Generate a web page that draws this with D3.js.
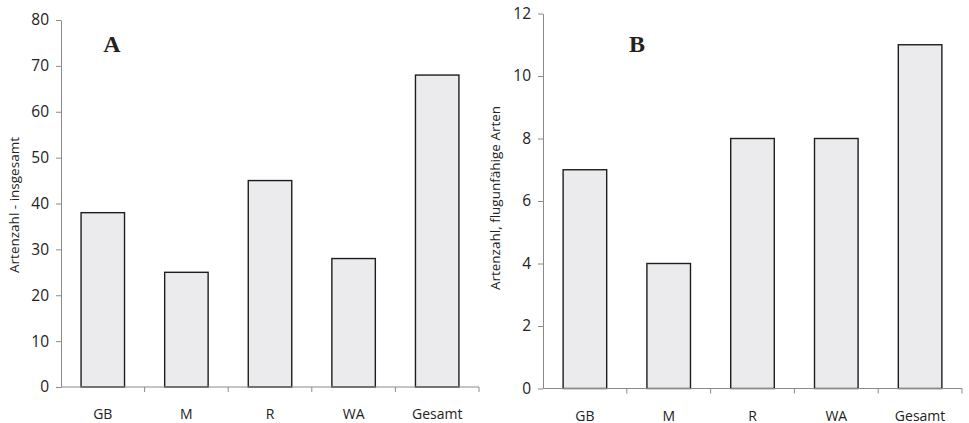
<!DOCTYPE html>
<html>
<head>
<meta charset="utf-8">
<script src="https://cdn.jsdelivr.net/npm/d3@7"></script>
<style>
  body { margin: 0; background: #fff; }
  svg text { font-family: "Open Sans", "Noto Sans", sans-serif; fill: #222; }
</style>
</head>
<body>
<div id="chart"></div>
<script>
const categories = ["GB", "M", "R", "WA", "Gesamt"];
const valuesA = [38, 25, 45, 28, 68];
const valuesB = [7, 4, 8, 8, 11];
const ticksA = [0, 10, 20, 30, 40, 50, 60, 70, 80];
const ticksB = [0, 2, 4, 6, 8, 10, 12];

const width = 969, height = 423;
const svg = d3.select("#chart").append("svg")
  .attr("width", width)
  .attr("height", height);

// one panel = one bar chart
function panel(opts) {
  const y = d3.scaleLinear().domain([0, opts.max]).range([opts.y0, opts.y1]);
  const x = d3.scaleBand().domain(categories).range([opts.x0, opts.x1]);
  const g = svg.append("g");

  // bars
  const bw = x.bandwidth() * 0.52;
  g.selectAll("rect")
    .data(opts.values)
    .enter()
    .append("rect")
    .attr("x", (d, i) => x(categories[i]) + (x.bandwidth() - bw) / 2)
    .attr("y", d => y(d))
    .attr("width", bw)
    .attr("height", d => y(0) - y(d))
    .style("fill", "#ebebee")
    .style("stroke", "#1e1e1e")
    .style("stroke-width", 1.4);

  // y axis
  const ya = g.append("g")
    .attr("transform", "translate(" + opts.x0 + ",0)")
    .call(d3.axisLeft(y).tickValues(opts.ticks).tickSize(5).tickPadding(7).tickSizeOuter(0));
  ya.selectAll("text").style("font-size", "15.5px");

  // x axis: ticks between categories
  const xa = g.append("g").attr("transform", "translate(0," + opts.y0 + ")");
  xa.append("line")
    .attr("x1", opts.x0).attr("x2", opts.x1)
    .attr("y1", 0).attr("y2", 0);
  xa.selectAll(".tk")
    .data(categories)
    .enter()
    .append("line")
    .attr("class", "tk")
    .attr("x1", d => x(d) + x.bandwidth())
    .attr("x2", d => x(d) + x.bandwidth())
    .attr("y1", 0).attr("y2", 5);
  xa.selectAll("text")
    .data(categories)
    .enter()
    .append("text")
    .attr("x", d => x(d) + x.bandwidth() / 2)
    .attr("y", 32)
    .attr("text-anchor", "middle")
    .style("font-size", "14px")
    .text(d => d);

  g.selectAll(".domain, .tick line, line").style("stroke", "#8a8a8a");

  // axis title
  g.append("text")
    .attr("transform", "translate(" + opts.labelX + "," + opts.labelY + ") rotate(-90)")
    .attr("text-anchor", "middle")
    .style("font-size", "13.5px")
    .text(opts.label);

  // panel letter
  g.append("text")
    .attr("x", opts.letterX)
    .attr("y", 52)
    .attr("text-anchor", "middle")
    .style("font-family", "'Liberation Serif', 'DejaVu Serif', serif")
    .style("font-weight", "bold")
    .style("font-size", "24px")
    .text(opts.letter);
}

panel({
  values: valuesA, ticks: ticksA, max: 80,
  x0: 61, x1: 479, y0: 387, y1: 20,
  label: "Artenzahl - insgesamt", labelX: 19, labelY: 205,
  letter: "A", letterX: 112
});

panel({
  values: valuesB, ticks: ticksB, max: 12,
  x0: 543, x1: 962, y0: 388.5, y1: 13.5,
  label: "Artenzahl, flugunfähige Arten", labelX: 500, labelY: 198,
  letter: "B", letterX: 637
});
</script>
</body>
</html>
